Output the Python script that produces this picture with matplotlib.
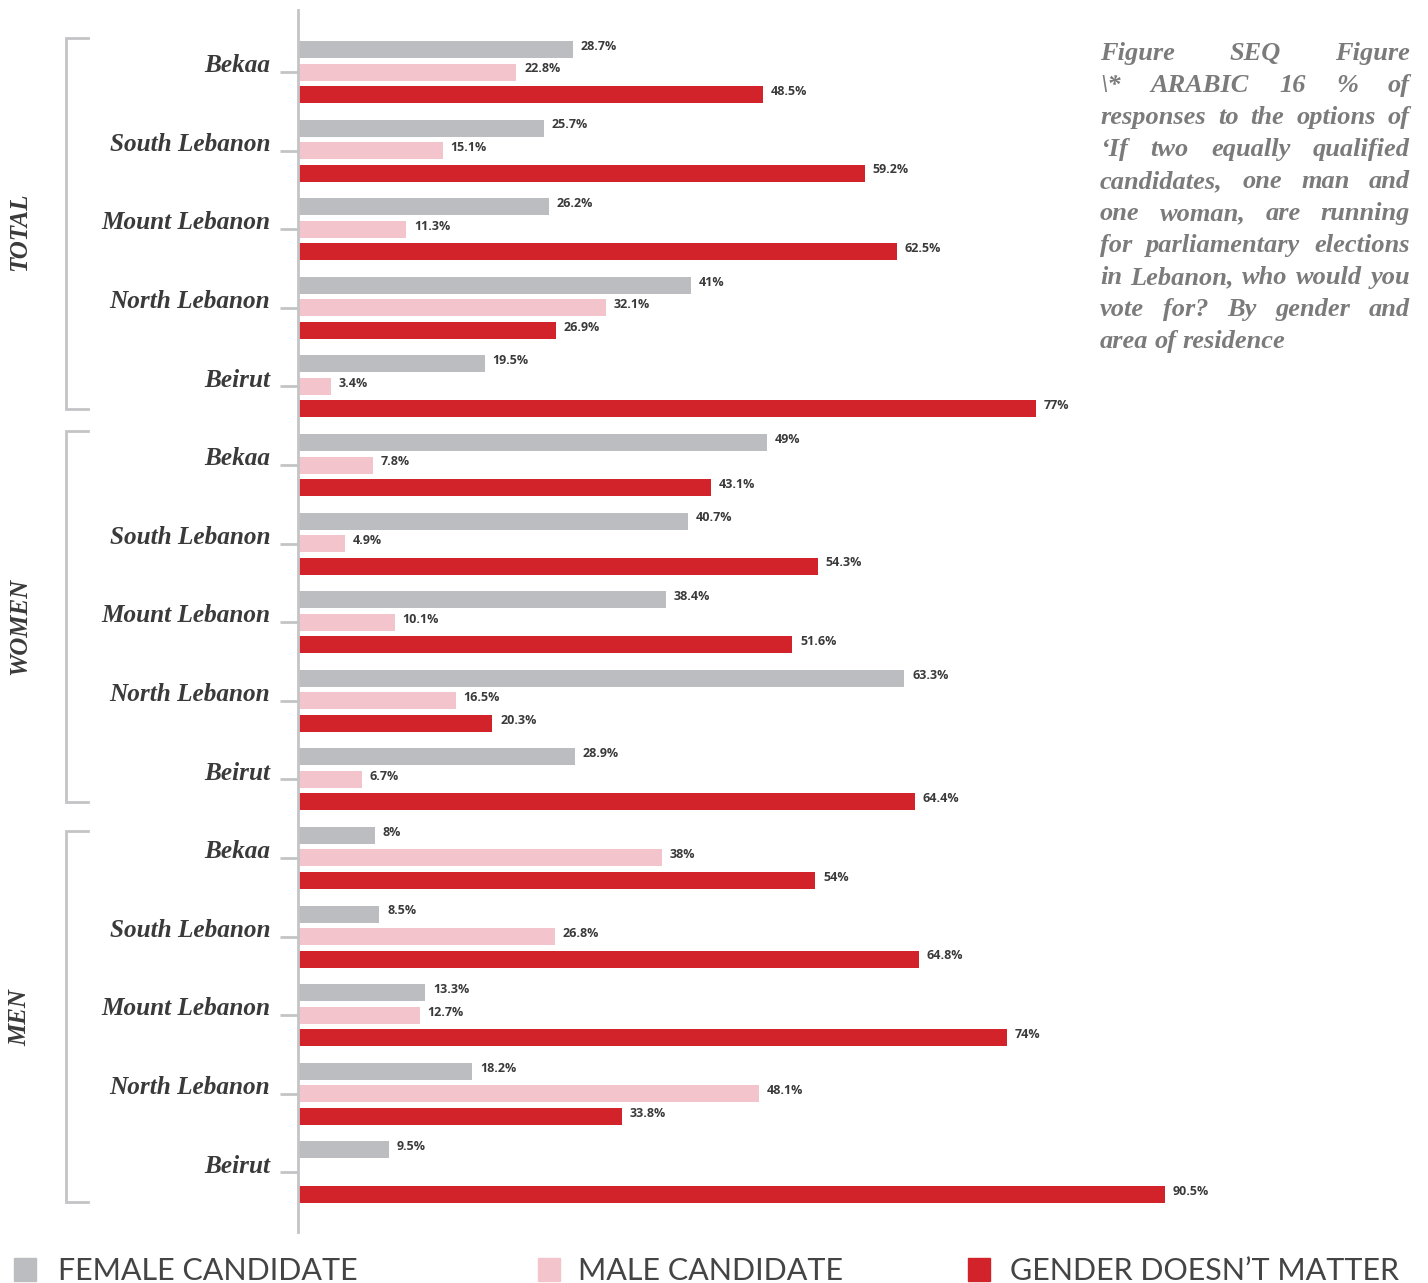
import numpy as np
import matplotlib
matplotlib.use("Agg")
import matplotlib.pyplot as plt
from matplotlib.patches import Rectangle

W, H = 1428, 1283

# data
groups = ["TOTAL", "WOMEN", "MEN"]
areas = ["Bekaa", "South Lebanon", "Mount Lebanon", "North Lebanon", "Beirut"]
female = [28.7, 25.7, 26.2, 41, 19.5,
          49, 40.7, 38.4, 63.3, 28.9,
          8, 8.5, 13.3, 18.2, 9.5]
male = [22.8, 15.1, 11.3, 32.1, 3.4,
        7.8, 4.9, 10.1, 16.5, 6.7,
        38, 26.8, 12.7, 48.1, 0]
neutral = [48.5, 59.2, 62.5, 26.9, 77,
           43.1, 54.3, 51.6, 20.3, 64.4,
           54, 64.8, 74, 33.8, 90.5]
legend_labels = ["FEMALE CANDIDATE", "MALE CANDIDATE", "GENDER DOESN\u2019T MATTER"]

title_lines = [
    "Figure SEQ Figure",
    "\\* ARABIC 16 % of",
    "responses to the options of",
    "\u2018If two equally qualified",
    "candidates, one man and",
    "one woman, are running",
    "for parliamentary elections",
    "in Lebanon, who would you",
    "vote for? By gender and",
    "area of residence",
]

c_female = "#bcbdc0"
c_male = "#f4c4cc"
c_neutral = "#d2232a"
c_text = "#3a3a3a"
c_line = "#c4c4c6"

fig = plt.figure(figsize=(W / 100, H / 100), dpi=100)

# axes: x=0 at px 298, 9.58 px per %, top px 10, bottom px 1232
x0, xscale = 298, 9.58
y_first, y_step = 72, 78.6
ax_top, ax_bot = 10, 1232
xmax = 100
ax = fig.add_axes([x0 / W, 1 - ax_bot / H, xmax * xscale / W, (ax_bot - ax_top) / H])
ax.set_xlim(0, xmax)
ax.set_ylim((ax_bot - y_first) / y_step, (ax_top - y_first) / y_step)

n = len(female)
pos = np.arange(n)
off = 22.5 / y_step
bh = 17 / y_step
ax.barh(pos - off, female, height=bh, color=c_female)
ax.barh(pos, male, height=bh, color=c_male)
ax.barh(pos + off, neutral, height=bh, color=c_neutral)

for vals, dy in [(female, -off), (male, 0), (neutral, off)]:
    for i, v in enumerate(vals):
        if v == 0:
            continue
        ax.text(v + 0.8, i + dy - 0.04, f"{v:g}%", ha="left", va="center",
                fontsize=9, fontweight="bold", color=c_text, family="Open Sans")

for s in ["top", "right", "bottom"]:
    ax.spines[s].set_visible(False)
ax.spines["left"].set_color(c_line)
ax.spines["left"].set_linewidth(2)
ax.set_xticks([])
ax.set_yticks(pos)
ax.set_yticklabels([])
ax.tick_params(axis="y", length=13, width=2, color=c_line)

for i in range(n):
    ax.text(-2.9, i - 0.08, areas[i % 5], ha="right", va="center",
            fontsize=18.2, fontweight="bold", fontstyle="italic",
            family="Liberation Serif", color=c_text, clip_on=False)

# group brackets
def py2d(p):
    return (p - y_first) / y_step

bx, bx2 = (66 - x0) / xscale, (88 - x0) / xscale
lx = (20 - x0) / xscale
br_top = [38, 431, 831]
br_bot = [409, 802, 1202]
lab_y = [232, 626, 1018]
for g, name in enumerate(groups):
    top, bot = py2d(br_top[g]), py2d(br_bot[g])
    ax.plot([bx2, bx, bx, bx2], [top, top, bot, bot], color=c_line, lw=2,
            clip_on=False, solid_joinstyle="miter")
    ax.text(lx, py2d(lab_y[g]), name, rotation=90, ha="center", va="center",
            fontsize=18, fontweight="bold", fontstyle="italic",
            family="Liberation Serif", color=c_text, clip_on=False)

# justified title block on the right
renderer = fig.canvas.get_renderer()
tx_left, tx_right = 1100, 1410
base0, lstep = 60, 32
tprops = dict(fontsize=19, fontweight="bold", fontstyle="italic",
              family="Liberation Serif", color="#7b7b7b", va="baseline", ha="left")
for k, line in enumerate(title_lines):
    words = line.split(" ")
    yb = 1 - (base0 + k * lstep) / H
    objs = [fig.text(0, yb, w_, **tprops) for w_ in words]
    widths = [o.get_window_extent(renderer).width for o in objs]
    if k < len(title_lines) - 1 and len(words) > 1:
        gap = (tx_right - tx_left - sum(widths)) / (len(words) - 1)
    else:
        gap = 6
    x = tx_left
    for o, wd in zip(objs, widths):
        o.set_x(x / W)
        x += wd + gap

# legend
leg_sq = [14, 538, 968]
leg_tx = [58, 578, 1010]
for sq, tx, lab, col in zip(leg_sq, leg_tx, legend_labels, [c_female, c_male, c_neutral]):
    fig.patches.append(Rectangle((sq / W, 1 - 1281 / H), 22 / W, 23 / H,
                                 transform=fig.transFigure, color=col))
    fig.text(tx / W, 1 - 1280 / H, lab, ha="left", va="baseline", fontsize=22,
             family="Lato", color="#444444")

fig.savefig("out.png", dpi=100)
